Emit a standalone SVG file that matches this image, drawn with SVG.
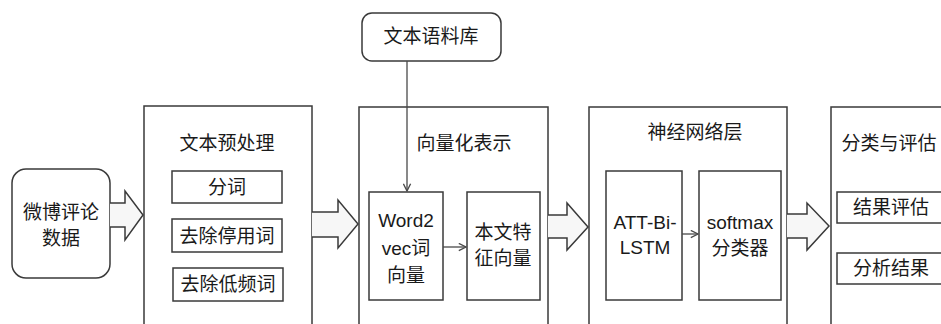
<svg xmlns="http://www.w3.org/2000/svg" width="941" height="324" viewBox="0 0 941 324">
<style>
.b{fill:#fff;stroke:#3a3a3a;stroke-width:1.5}
.t{font-family:"Liberation Sans","Noto Sans CJK SC",sans-serif;font-size:19px;fill:#1a1a1a;text-anchor:middle;dominant-baseline:central}
.big{fill:#f7f7f7;stroke:#3a3a3a;stroke-width:1.5;stroke-linejoin:miter}
.ln{stroke:#4a4a4a;stroke-width:1.3;fill:none}
</style>
<defs>
<marker id="ah" viewBox="0 0 10 10" refX="9" refY="5" markerWidth="9" markerHeight="9" markerUnits="userSpaceOnUse" orient="auto">
<path d="M1,1 L9,5 L1,9" fill="none" stroke="#4a4a4a" stroke-width="1.5"/>
</marker>
</defs>
<rect width="941" height="324" fill="#fff"/>
<g id="weibo">
<rect class="b" x="12" y="169" width="98" height="109" rx="14"/>
<text class="t" x="61" y="212">微博评论</text>
<text class="t" x="61" y="238">数据</text>
</g>
<g id="corpus">
<rect class="b" x="362" y="13" width="139" height="48" rx="10"/>
<text class="t" x="431" y="36">文本语料库</text>
</g>
<g id="preprocess">
<rect class="b" x="144" y="106" width="168" height="230"/>
<text class="t" x="227" y="143">文本预处理</text>
<g id="seg"><rect class="b" x="172" y="171" width="110" height="32"/><text class="t" x="227" y="187">分词</text></g>
<g id="stop"><rect class="b" x="172" y="219" width="110" height="33"/><text class="t" x="227" y="236">去除停用词</text></g>
<g id="lowfreq"><rect class="b" x="173" y="268" width="110" height="33"/><text class="t" x="228" y="284">去除低频词</text></g>
</g>
<g id="vectorize">
<rect class="b" x="359" y="107" width="189" height="230"/>
<text class="t" x="464" y="143">向量化表示</text>
<g id="w2v"><rect class="b" x="369" y="192" width="74" height="108"/>
<text class="t" x="406" y="220">Word2</text><text class="t" x="406" y="248">vec词</text><text class="t" x="406" y="275">向量</text></g>
<g id="feat"><rect class="b" x="467" y="192" width="73" height="108"/>
<text class="t" x="503" y="232">本文特</text><text class="t" x="503" y="258">征向量</text></g>
</g>
<g id="nn">
<rect class="b" x="589" y="107" width="198" height="230"/>
<text class="t" x="695" y="132">神经网络层</text>
<g id="lstm"><rect class="b" x="606" y="171" width="76" height="129"/>
<text class="t" x="645" y="222">ATT-Bi-</text><text class="t" x="645" y="247">LSTM</text></g>
<g id="softmax"><rect class="b" x="699" y="171" width="82" height="129"/>
<text class="t" x="740" y="222">softmax</text><text class="t" x="740" y="248">分类器</text></g>
</g>
<g id="eval">
<rect class="b" x="831" y="107" width="130" height="230"/>
<text class="t" x="889" y="143">分类与评估</text>
<g id="res"><rect class="b" x="837" y="192" width="120" height="31"/><text class="t" x="891" y="207">结果评估</text></g>
<g id="ana"><rect class="b" x="837" y="253" width="120" height="31"/><text class="t" x="891" y="268">分析结果</text></g>
</g>
<g id="connectors">
<path class="big" d="M110,203 L125,203 L125,191 L143,215 L125,240 L125,227 L110,227"/>
<path class="big" d="M312,212 L338,212 L338,200 L358,224 L338,248 L338,237 L312,237"/>
<path class="big" d="M548,215 L567,215 L567,203 L588,227 L567,250 L567,238 L548,238"/>
<path class="big" d="M787,214 L807,214 L807,203 L829,226 L807,250 L807,238 L787,238"/>
<line class="ln" x1="407" y1="61" x2="407" y2="191" marker-end="url(#ah)"/>
<line class="ln" x1="443" y1="247" x2="466" y2="247" marker-end="url(#ah)"/>
<line class="ln" x1="682" y1="234" x2="698" y2="234" marker-end="url(#ah)"/>
</g>
</svg>
